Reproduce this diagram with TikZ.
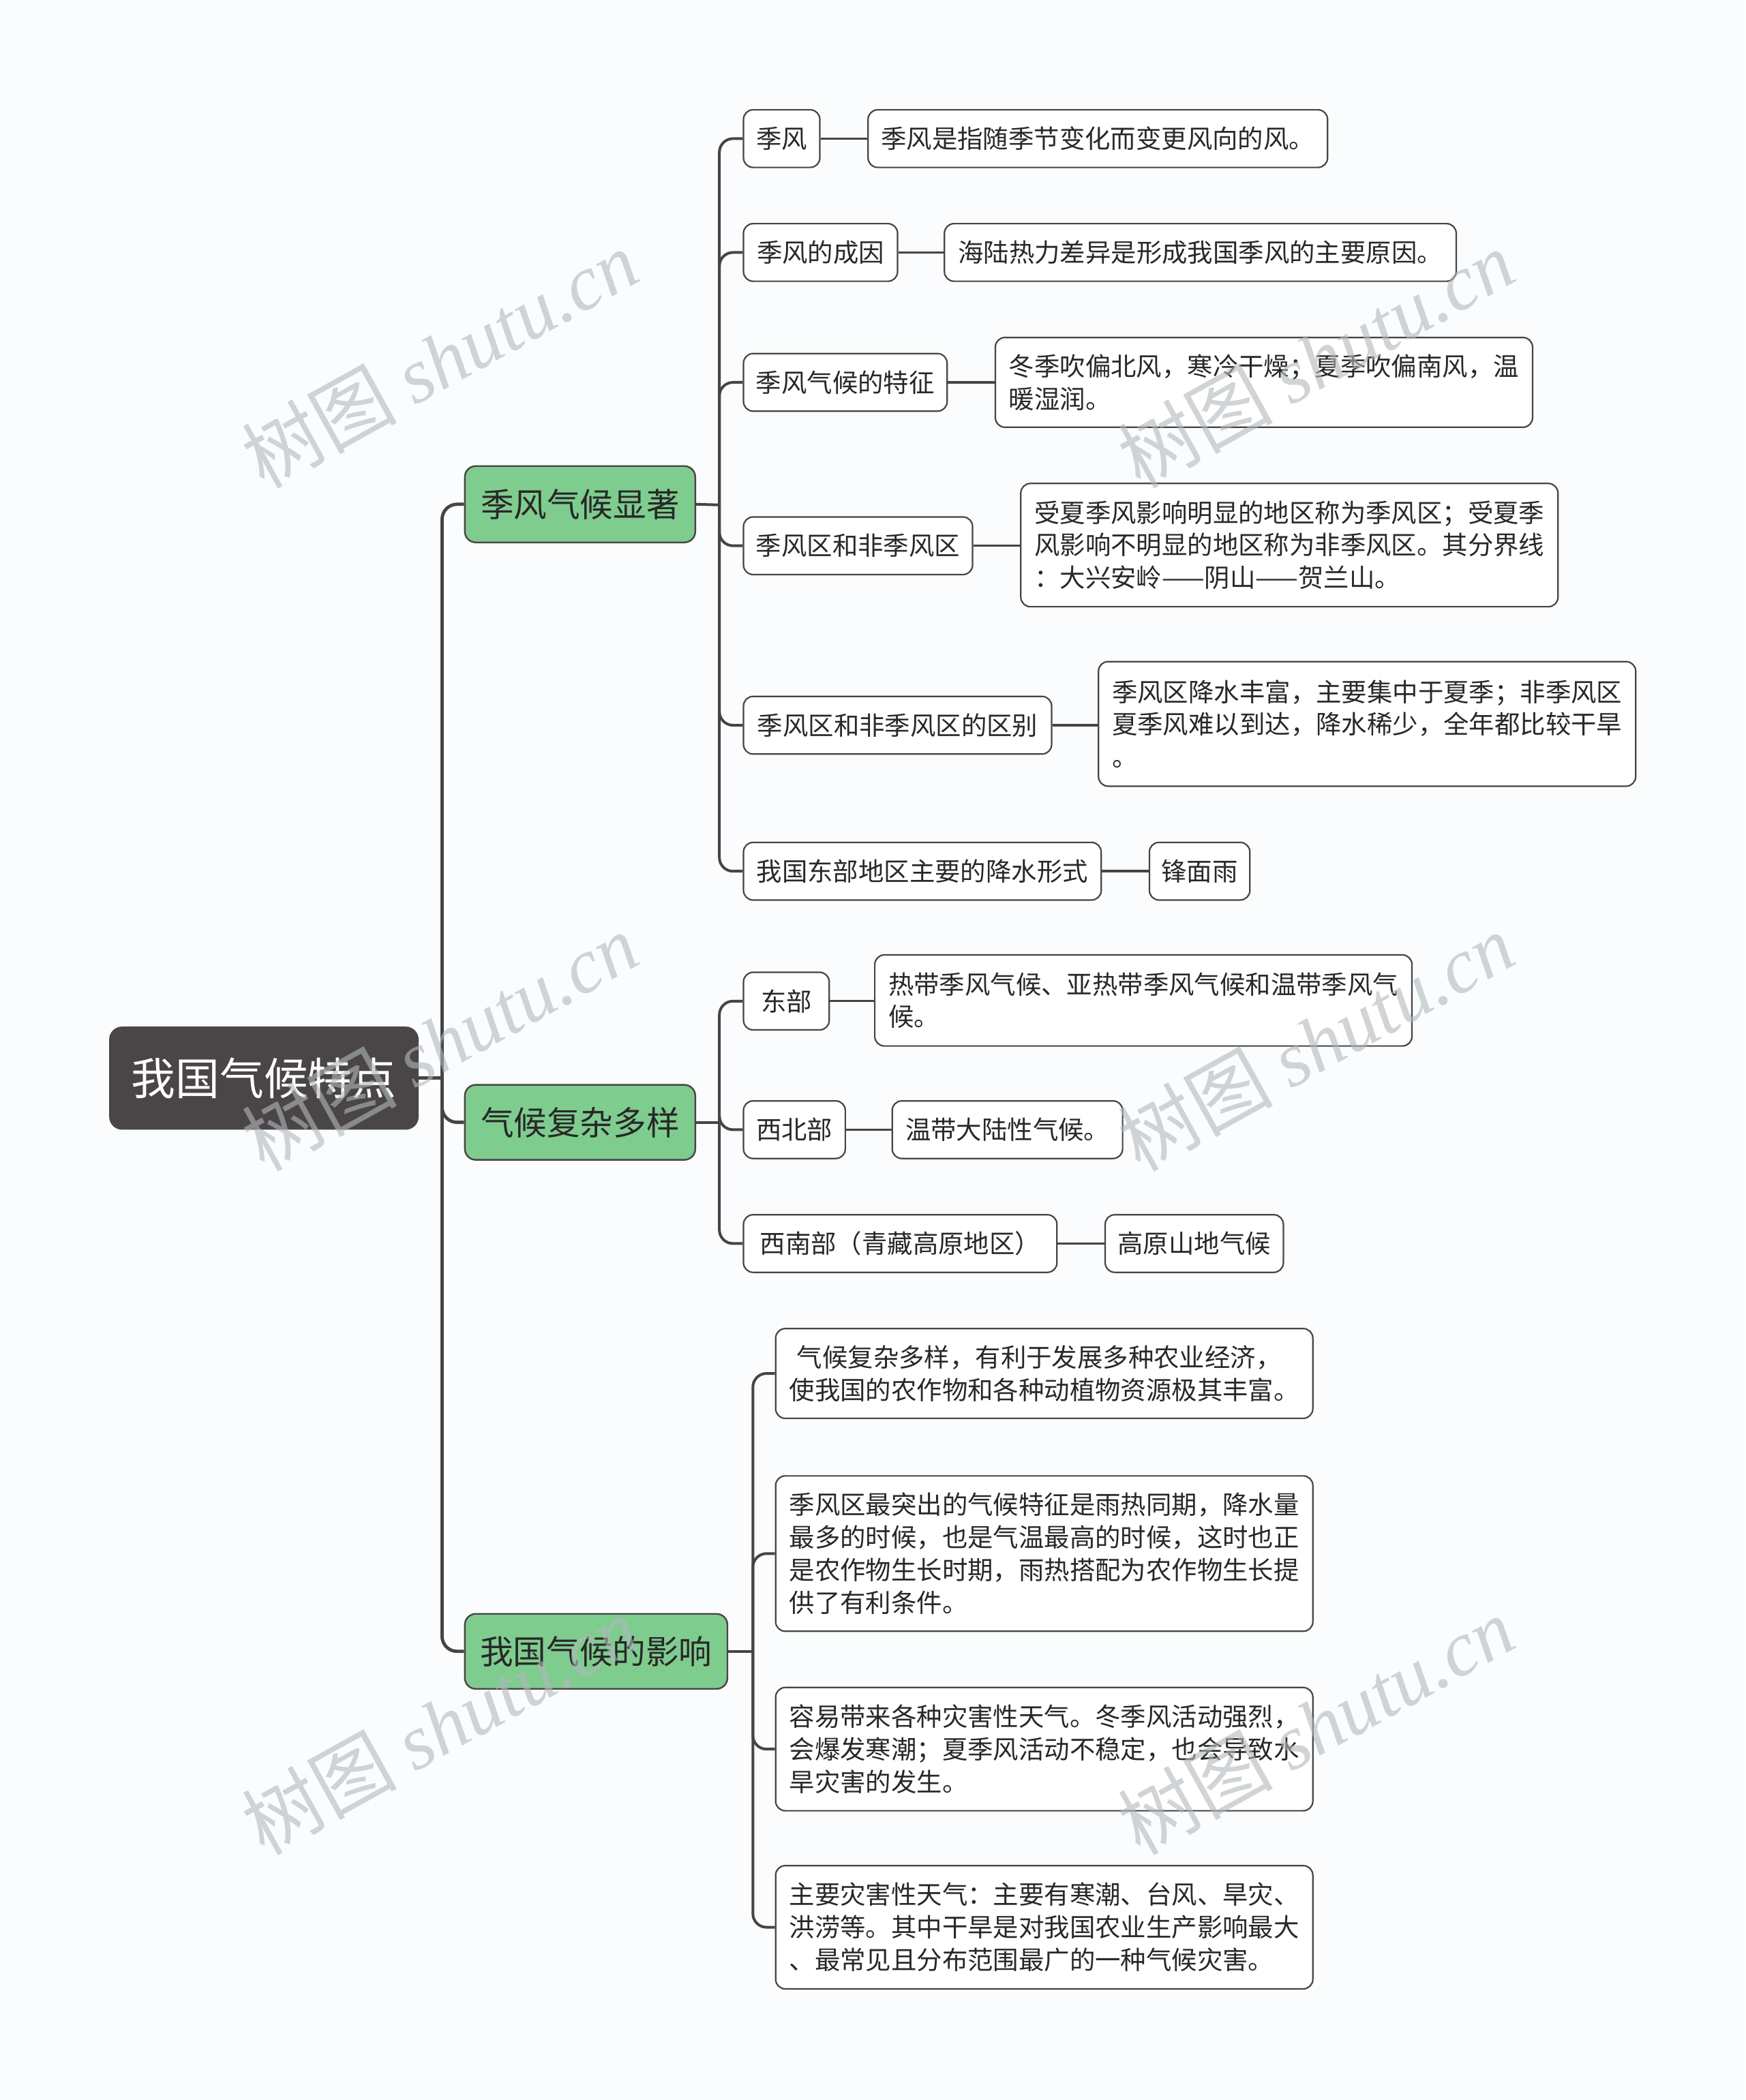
\documentclass[tikz,border=0pt]{standalone}
\usepackage{fontspec}
\setmainfont{Noto Sans CJK SC}
\newfontfamily\wmserif{Liberation Serif}
\definecolor{bgc}{RGB}{250,252,254}
\definecolor{linec}{RGB}{72,68,68}
\definecolor{greenc}{RGB}{127,204,143}
\definecolor{rootc}{RGB}{74,69,70}
\definecolor{textc}{RGB}{40,40,40}
\definecolor{wmc}{RGB}{178,184,188}
\newcommand\bx[7]{%
 \pgfmathsetlengthmacro\bxw{(#5-#3)*0.98235}%
 \pgfmathsetlengthmacro\bxh{(#6-#4)*0.98235}%
 \node[#1, minimum width=\bxw, minimum height=\bxh] (#2) at ({(#3+#5)/2},{(#4+#6)/2}) {#7};}
\begin{document}
\begin{tikzpicture}[x=0.98235pt,y=-0.98235pt,
  rootn/.style={fill=rootc, draw=rootc, line width=1pt, rounded corners=9pt, text=white, inner sep=0pt,
    font=\fontsize{32.4}{38}\selectfont},
  gn/.style={fill=greenc, draw=linec, line width=1.2pt, rounded corners=8pt, text=textc, inner sep=0pt,
    font=\fontsize{24.3}{29}\selectfont},
  ln/.style={fill=white, draw=linec, line width=1.1pt, rounded corners=7pt, text=textc, inner sep=0pt,
    align=left, font=\fontsize{18.7}{23.9}\selectfont},
  ct/.style={draw=linec, line width=2.4pt},
  cb/.style={draw=linec, line width=2pt, rounded corners=10pt},
  cl/.style={draw=linec, line width=1.7pt},
  wm/.style={text=wmc, opacity=0.6, rotate=29, inner sep=0pt, font=\fontsize{57}{62}\selectfont}]
\fill[bgc] (0,0) rectangle (1303,1568);
\useasboundingbox (0,0) rectangle (1303,1568);

% root and main branches
\bx{rootn}{root}{82}{767}{312}{843}{我国气候特点}
\bx{gn}{g1}{347}{348}{519}{405}{季风气候显著}
\bx{gn}{g2}{347}{810}{519}{866}{气候复杂多样}
\bx{gn}{g3}{347}{1205}{543}{1261}{我国气候的影响}

% branch 1
\bx{ln}{a1}{555}{82}{612}{125}{季风}
\bx{ln}{a1l}{648}{82}{991}{125}{季风是指随季节变化而变更风向的风。}
\bx{ln}{a2}{555}{167}{670}{210}{季风的成因}
\bx{ln}{a2l}{705}{167}{1087}{210}{海陆热力差异是形成我国季风的主要原因。}
\bx{ln}{a3}{555}{264}{707}{307}{季风气候的特征}
\bx{ln}{a3l}{743}{252}{1144}{319}{冬季吹偏北风，寒冷干燥；夏季吹偏南风，温\\暖湿润。}
\bx{ln}{a4}{555}{386}{726}{429}{季风区和非季风区}
\bx{ln}{a4l}{762}{361}{1163}{453}{受夏季风影响明显的地区称为季风区；受夏季\\风影响不明显的地区称为非季风区。其分界线\\：大兴安岭——阴山——贺兰山。}
\bx{ln}{a5}{555}{520}{785}{563}{季风区和非季风区的区别}
\bx{ln}{a5l}{820}{494}{1221}{587}{季风区降水丰富，主要集中于夏季；非季风区\\夏季风难以到达，降水稀少，全年都比较干旱\\。}
\bx{ln}{a6}{555}{629}{822}{672}{我国东部地区主要的降水形式}
\bx{ln}{a6l}{858}{629}{933}{672}{锋面雨}

% branch 2
\bx{ln}{b1}{555}{726}{619}{769}{东部}
\bx{ln}{b1l}{653}{713}{1054}{781}{热带季风气候、亚热带季风气候和温带季风气\\候。}
\bx{ln}{b2}{555}{822}{631}{865}{西北部}
\bx{ln}{b2l}{666}{822}{838}{865}{温带大陆性气候。}
\bx{ln}{b3}{555}{907}{789}{950}{西南部（青藏高原地区）}
\bx{ln}{b3l}{825}{907}{958}{950}{高原山地气候}

% branch 3
\bx{ln}{c1}{579}{992}{980}{1059}{\hspace*{0.3em}气候复杂多样，有利于发展多种农业经济，\\使我国的农作物和各种动植物资源极其丰富。}
\bx{ln}{c2}{579}{1102}{980}{1218}{季风区最突出的气候特征是雨热同期，降水量\\最多的时候，也是气温最高的时候，这时也正\\是农作物生长时期，雨热搭配为农作物生长提\\供了有利条件。}
\bx{ln}{c3}{579}{1260}{980}{1352}{容易带来各种灾害性天气。冬季风活动强烈，\\会爆发寒潮；夏季风活动不稳定，也会导致水\\旱灾害的发生。}
\bx{ln}{c4}{579}{1393}{980}{1485}{主要灾害性天气：主要有寒潮、台风、旱灾、\\洪涝等。其中干旱是对我国农业生产影响最大\\、最常见且分布范围最广的一种气候灾害。}

% trunk
\coordinate (t) at (330,805);
\draw[ct] (root.east) -- (t);
\draw[ct, rounded corners=11pt] (t) |- (g1.west);
\draw[ct, rounded corners=11pt] (t) |- (g2.west);
\draw[ct, rounded corners=11pt] (t) |- (g3.west);

% branch connectors
\coordinate (p1) at (537,377);
\draw[cb] (g1.east) -- (p1);
\foreach \n in {a1,a2,a3,a4,a5,a6} {\draw[cb] (p1) |- (\n.west);}
\coordinate (p2) at (537,838);
\draw[cb] (g2.east) -- (p2);
\foreach \n in {b1,b2,b3} {\draw[cb] (p2) |- (\n.west);}
\coordinate (p3) at (562,1233);
\draw[cb] (g3.east) -- (p3);
\foreach \n in {c1,c2,c3,c4} {\draw[cb] (p3) |- (\n.west);}

% leaf connectors
\foreach \a/\b in {a1/a1l,a2/a2l,a3/a3l,a4/a4l,a5/a5l,a6/a6l,b1/b1l,b2/b2l,b3/b3l}
  {\draw[cl] (\a.east) -- (\a.east -| \b.west);}

% watermarks
\node[wm] (w1) at (328,268) {树图 {\wmserif\itshape shutu.cn}};
\node[wm] (w2) at (982,268) {树图 {\wmserif\itshape shutu.cn}};
\node[wm] (w3) at (328,778) {树图 {\wmserif\itshape shutu.cn}};
\node[wm] (w4) at (982,778) {树图 {\wmserif\itshape shutu.cn}};
\node[wm] (w5) at (328,1288) {树图 {\wmserif\itshape shutu.cn}};
\node[wm] (w6) at (982,1288) {树图 {\wmserif\itshape shutu.cn}};
\end{tikzpicture}
\end{document}
